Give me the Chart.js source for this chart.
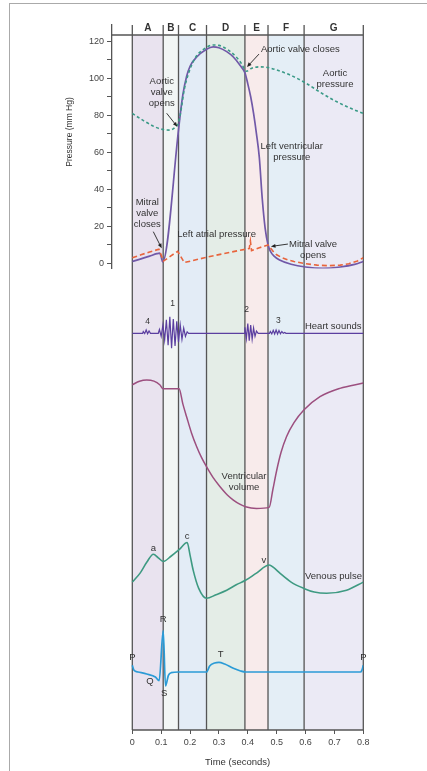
<!DOCTYPE html>
<html>
<head>
<meta charset="utf-8">
<script src="https://cdn.jsdelivr.net/npm/chart.js@4.4.1/dist/chart.umd.min.js"></script>
<style>
  html, body { margin: 0; padding: 0; background: #fff; }
  #wrap { position: relative; width: 427px; height: 771px; overflow: hidden; }
  #frame { position: absolute; left: 9px; top: 3px; width: 600px; height: 900px; border: 1.5px solid #aaa; }
  canvas { position: absolute; left: 0; top: 0; }
</style>
</head>
<body>
<div id="wrap"><div id="frame"></div><canvas id="wiggers" width="427" height="771"></canvas></div>
<script>
// cardiac cycle phases (seconds)
const phaseEdges = [0, 0.107, 0.16, 0.257, 0.39, 0.47, 0.595, 0.8];
const phaseNames = ["A", "B", "C", "D", "E", "F", "G"];

const timeTicks = [0, 0.1, 0.2, 0.3, 0.4, 0.5, 0.6, 0.7, 0.8];
const pressureTicks = [0, 10, 20, 30, 40, 50, 60, 70, 80, 90, 100, 110, 120];

// [time s, mm Hg]
const lvPressure = [[0,1],[0.03,2.4],[0.06,3.9],[0.085,5.2],[0.095,5.5],[0.1,3.5],[0.105,0.8],[0.16,72],[0.165,79],
  [0.175,91],[0.188,101],[0.2,106.5],[0.223,111.5],[0.257,115.7],[0.28,117],[0.3,116.5],[0.327,114.4],[0.35,111.5],
  [0.373,107],[0.39,103],[0.4,97],[0.41,90],[0.42,81],[0.43,70],[0.44,57],[0.45,35],[0.46,19],[0.47,10],[0.48,6],
  [0.49,4],[0.51,1.8],[0.55,-0.5],[0.6,-2],[0.66,-2.7],[0.72,-2],[0.77,-0.6],[0.8,1]];
const aorticPressure = [[0,81],[0.04,77],[0.08,73.6],[0.11,72.2],[0.13,72],[0.148,73.5],[0.16,76],[0.17,84],[0.18,94],
  [0.2,105],[0.22,111.5],[0.25,116],[0.28,118],[0.3,117.8],[0.33,115.5],[0.36,111.5],[0.38,107.5],[0.39,104.5],
  [0.396,103.8],[0.41,105.2],[0.44,106.2],[0.47,105.8],[0.5,104.5],[0.55,101.5],[0.6,97.5],[0.65,92.5],[0.7,88],
  [0.75,84.2],[0.8,81]];
const atrialPressure = [[0,3],[0.03,4.6],[0.06,6.1],[0.092,7.6],[0.1,4.5],[0.108,1.2],[0.13,3.6],[0.157,6.5],[0.163,5],
  [0.18,0.4],[0.25,3],[0.3,4.7],[0.35,6.3],[0.405,8],[0.409,12],[0.413,6.8],[0.44,8.4],[0.47,9.9],[0.48,8],[0.49,6],
  [0.5,4.6],[0.52,2.9],[0.54,1.8],[0.56,1],[0.6,-0.2],[0.64,-1],[0.68,-1.3],[0.72,-1],[0.75,-0.2],[0.78,1.3],[0.8,3]];

// phonocardiogram, relative amplitude
const heartSounds = [[0,0],[0.036,0],[0.038,0.12],[0.043,-0.02],[0.048,0.22],[0.053,-0.03],[0.058,0.15],[0.063,0],
  [0.09,0],[0.094,0.25],[0.1,-0.2],[0.106,0.55],[0.112,-0.45],[0.118,0.9],[0.124,-0.8],[0.13,1.1],[0.136,-1.0],
  [0.142,0.95],[0.148,-0.85],[0.154,0.8],[0.16,-0.6],[0.166,0.55],[0.172,-0.4],[0.178,0.35],[0.184,-0.2],[0.19,0.1],
  [0.195,0],[0.387,0],[0.39,0.4],[0.395,-0.35],[0.4,0.65],[0.405,-0.5],[0.41,0.55],[0.415,-0.4],[0.42,0.35],
  [0.425,-0.2],[0.43,0.15],[0.436,0],[0.475,0],[0.478,0.12],[0.483,-0.04],[0.488,0.2],[0.493,-0.05],[0.498,0.22],
  [0.503,-0.05],[0.508,0.18],[0.513,-0.03],[0.518,0.12],[0.523,0],[0.528,0.05],[0.532,0],[0.8,0]];

// mL
const ventricularVolume = [[0,122.2],[0.025,124.3],[0.05,125],[0.075,124.3],[0.095,122.2],[0.107,119.8],[0.162,119.8],
  [0.175,111],[0.188,103.5],[0.205,94],[0.223,85.9],[0.24,79.5],[0.257,74.2],[0.28,67.8],[0.304,62.5],[0.33,57.5],
  [0.35,54.7],[0.372,52.3],[0.392,50.8],[0.43,49.8],[0.474,50.4],[0.487,61],[0.5,72],[0.515,82.5],[0.534,91.8],
  [0.56,100],[0.594,107.4],[0.65,115.2],[0.719,120.1],[0.8,123.2]];

// venous pulse, relative
const venousPulse = [[0,3.1],[0.027,4.1],[0.05,5.3],[0.073,6.2],[0.09,5.8],[0.107,5.4],[0.135,6],[0.162,6.7],[0.19,7.5],
  [0.2,6.1],[0.211,4.4],[0.23,2.4],[0.257,1.3],[0.29,1.7],[0.327,2.2],[0.36,2.8],[0.392,3.3],[0.43,4.1],[0.474,5],
  [0.49,4.7],[0.511,4.1],[0.55,3.1],[0.594,2.4],[0.63,2],[0.673,1.86],[0.742,2.2],[0.8,3.1]];

// ECG, mV
const ecgTrace = [[0,0.2],[0.006,0.05],[0.02,0],[0.05,-0.06],[0.08,-0.15],[0.093,-0.26],[0.107,1.24],[0.115,-0.42],
  [0.125,-0.1],[0.135,-0.02],[0.16,0],[0.257,0],[0.268,0.18],[0.285,0.27],[0.3,0.29],[0.32,0.24],[0.35,0.11],
  [0.375,0.03],[0.392,0],[0.79,0],[0.795,0.05],[0.8,0.2]];

const phaseFill = ["#e9e3ef", "#f2f6f5", "#e3ecf6", "#e4ede7", "#f8ebeb", "#e4eef6", "#ebeaf5"];

const notes = [
  {axis: "p", t: 0.4457, v: 115.7, align: "left", lines: ["Aortic valve closes"]},
  {axis: "p", t: 0.702, v: 102.7, lines: ["Aortic", "pressure"]},
  {axis: "p", t: 0.102, v: 98.2, lines: ["Aortic", "valve", "opens"]},
  {axis: "p", t: 0.552, v: 63.0, lines: ["Left ventricular", "pressure"]},
  {axis: "p", t: 0.052, v: 32.8, lines: ["Mitral", "valve", "closes"]},
  {axis: "p", t: 0.292, v: 15.8, lines: ["Left atrial pressure"]},
  {axis: "p", t: 0.626, v: 10.4, lines: ["Mitral valve", "opens"]},
  {axis: "hs", t: 0.598, v: 0.44, align: "left", lines: ["Heart sounds"]},
  {axis: "hs", t: 0.14, v: 1.95, small: true, lines: ["1"]},
  {axis: "hs", t: 0.396, v: 1.6, small: true, lines: ["2"]},
  {axis: "hs", t: 0.506, v: 0.84, small: true, lines: ["3"]},
  {axis: "hs", t: 0.053, v: 0.77, small: true, lines: ["4"]},
  {axis: "vol", t: 0.387, v: 68.3, lines: ["Ventricular", "volume"]},
  {axis: "ven", t: 0.598, v: 3.7, align: "left", lines: ["Venous pulse"]},
  {axis: "ven", t: 0.073, v: 6.86, lines: ["a"]},
  {axis: "ven", t: 0.19, v: 8.14, lines: ["c"]},
  {axis: "ven", t: 0.456, v: 5.48, lines: ["v"]},
  {axis: "ecg", t: 0.107, v: 1.58, lines: ["R"]},
  {axis: "ecg", t: 0, v: 0.44, lines: ["P"]},
  {axis: "ecg", t: 0.8, v: 0.44, lines: ["P"]},
  {axis: "ecg", t: 0.061, v: -0.29, lines: ["Q"]},
  {axis: "ecg", t: 0.11, v: -0.64, lines: ["S"]},
  {axis: "ecg", t: 0.306, v: 0.54, lines: ["T"]}
];

const arrows = [
  {axis: "p", from: [0.4388, 113.1], to: [0.3972, 106.1]},
  {axis: "p", from: [0.119, 81.1], to: [0.156, 73.8]},
  {axis: "p", from: [0.0727, 17.1], to: [0.1018, 8.1]},
  {axis: "p", from: [0.539, 10.4], to: [0.48, 9.1]}
];

function pts(arr) { return arr.map(d => ({x: d[0], y: d[1]})); }

const decor = {
  id: "decor",
  beforeDatasetsDraw(chart) {
    const {ctx, chartArea, scales} = chart;
    const x = scales.x;
    const bandTop = chartArea.top + 10;
    ctx.save();
    for (let i = 0; i < phaseNames.length; i++) {
      const x0 = x.getPixelForValue(phaseEdges[i]);
      const x1 = x.getPixelForValue(phaseEdges[i + 1]);
      ctx.fillStyle = phaseFill[i];
      ctx.fillRect(x0, bandTop, x1 - x0, chartArea.bottom - bandTop);
    }
    ctx.strokeStyle = "#555";
    ctx.lineWidth = 1.3;
    ctx.beginPath();
    phaseEdges.forEach(t => {
      const px = x.getPixelForValue(t);
      ctx.moveTo(px, chartArea.top);
      ctx.lineTo(px, chartArea.bottom);
    });
    ctx.moveTo(chartArea.left, bandTop);
    ctx.lineTo(x.getPixelForValue(0.8), bandTop);
    ctx.moveTo(x.getPixelForValue(0), chartArea.bottom);
    ctx.lineTo(x.getPixelForValue(0.8), chartArea.bottom);
    ctx.stroke();
    ctx.restore();
  },
  afterDatasetsDraw(chart) {
    const {ctx, chartArea, scales} = chart;
    const x = scales.x;
    ctx.save();
    ctx.fillStyle = "#333";
    ctx.textAlign = "center";
    ctx.textBaseline = "middle";
    ctx.font = "bold 10px 'Liberation Sans', Arial, sans-serif";
    for (let i = 0; i < phaseNames.length; i++) {
      const mid = (x.getPixelForValue(phaseEdges[i]) + x.getPixelForValue(phaseEdges[i + 1])) / 2;
      ctx.fillText(phaseNames[i], mid, chartArea.top + 3);
    }
    // pressure axis title, centred a little above the middle of the axis as in the figure
    ctx.save();
    ctx.font = "8.5px 'Liberation Sans', Arial, sans-serif";
    ctx.translate(scales.p.left + 6, scales.p.getPixelForValue(71));
    ctx.rotate(-Math.PI / 2);
    ctx.fillText("Pressure (mm Hg)", 0, 0);
    ctx.restore();
    notes.forEach(n => {
      const px = x.getPixelForValue(n.t);
      const py = scales[n.axis].getPixelForValue(n.v);
      ctx.font = (n.small ? "8.5px" : "9.5px") + " 'Liberation Sans', Arial, sans-serif";
      ctx.textAlign = n.align || "center";
      ctx.fillStyle = "#333";
      n.lines.forEach((s, k) => ctx.fillText(s, px, py + k * 11));
    });
    ctx.strokeStyle = "#222";
    ctx.fillStyle = "#222";
    ctx.lineWidth = 0.9;
    arrows.forEach(a => {
      const s = scales[a.axis];
      const x0 = x.getPixelForValue(a.from[0]), y0 = s.getPixelForValue(a.from[1]);
      const x1 = x.getPixelForValue(a.to[0]), y1 = s.getPixelForValue(a.to[1]);
      const ang = Math.atan2(y1 - y0, x1 - x0);
      ctx.beginPath();
      ctx.moveTo(x0, y0);
      ctx.lineTo(x1 - 3 * Math.cos(ang), y1 - 3 * Math.sin(ang));
      ctx.stroke();
      ctx.beginPath();
      ctx.moveTo(x1, y1);
      ctx.lineTo(x1 - 5 * Math.cos(ang - 0.4), y1 - 5 * Math.sin(ang - 0.4));
      ctx.lineTo(x1 - 5 * Math.cos(ang + 0.4), y1 - 5 * Math.sin(ang + 0.4));
      ctx.closePath();
      ctx.fill();
    });
    ctx.restore();
  }
};

Chart.defaults.font.family = "'Liberation Sans', Arial, sans-serif";

function hiddenAxis(weight, stackWeight, min, max) {
  return {type: "linear", position: "left", stack: "v", weight: weight, stackWeight: stackWeight,
    min: min, max: max, display: false};
}

new Chart(document.getElementById("wiggers"), {
  type: "line",
  data: {
    datasets: [
      {label: "Aortic pressure", data: pts(aorticPressure), yAxisID: "p", borderColor: "#3a9a87", borderWidth: 1.6,
        borderDash: [3, 2.5], cubicInterpolationMode: "monotone"},
      {label: "Left atrial pressure", data: pts(atrialPressure), yAxisID: "p", borderColor: "#e8643c", borderWidth: 1.6,
        borderDash: [5, 3], tension: 0},
      {label: "Left ventricular pressure", data: pts(lvPressure), yAxisID: "p", borderColor: "#7159a8", borderWidth: 1.7,
        cubicInterpolationMode: "monotone"},
      {label: "Heart sounds", data: pts(heartSounds), yAxisID: "hs", borderColor: "#5b3fa0", borderWidth: 1.2, tension: 0},
      {label: "Ventricular volume", data: pts(ventricularVolume), yAxisID: "vol", borderColor: "#9c4f7f", borderWidth: 1.5,
        cubicInterpolationMode: "monotone"},
      {label: "Venous pulse", data: pts(venousPulse), yAxisID: "ven", borderColor: "#3e9a82", borderWidth: 1.6,
        cubicInterpolationMode: "monotone"},
      {label: "ECG", data: pts(ecgTrace), yAxisID: "ecg", borderColor: "#2b9bd6", borderWidth: 1.7,
        cubicInterpolationMode: "monotone"}
    ]
  },
  options: {
    responsive: false,
    animation: false,
    events: [],
    layout: {padding: {left: 64, right: 63.7, top: 25, bottom: 3}},
    elements: {point: {radius: 0}, line: {fill: false}},
    plugins: {legend: {display: false}, tooltip: {enabled: false}},
    scales: {
      x: {
        type: "linear", position: "bottom", min: -0.0703, max: 0.8,
        afterBuildTicks: s => { s.ticks = timeTicks.map(v => ({value: v})); },
        afterFit: s => { s.height = 38; },
        ticks: {callback: v => v === 0 ? "0" : String(v), color: "#444", font: {size: 9}, padding: 3, maxRotation: 0, autoSkip: false},
        grid: {drawOnChartArea: false, tickLength: 4, color: "#555"},
        border: {display: false},
        title: {display: true, text: "Time (seconds)", color: "#333", font: {size: 9.5}, padding: {top: 4, bottom: 0}}
      },
      p: {
        type: "linear", position: "left", stack: "v", weight: 5, stackWeight: 243.5, min: -2.81, max: 128.8,
        afterBuildTicks: s => { s.ticks = pressureTicks.map(v => ({value: v})); },
        afterFit: s => { s.width = 48; },
        ticks: {callback: v => v % 20 === 0 ? String(v) : "", color: "#444", font: {size: 9}, padding: 3, autoSkip: false},
        grid: {drawOnChartArea: false, tickLength: 5, color: "#555"},
        border: {color: "#555", width: 1.3}
      },
      hs: hiddenAxis(4, 91.5, -1.78, 4.32),
      vol: hiddenAxis(3, 160, 43.0, 136.7),
      ven: hiddenAxis(2, 90, 0, 10),
      ecg: hiddenAxis(1, 120, -1.742, 1.862)
    }
  },
  plugins: [decor]
});
</script>
</body>
</html>
